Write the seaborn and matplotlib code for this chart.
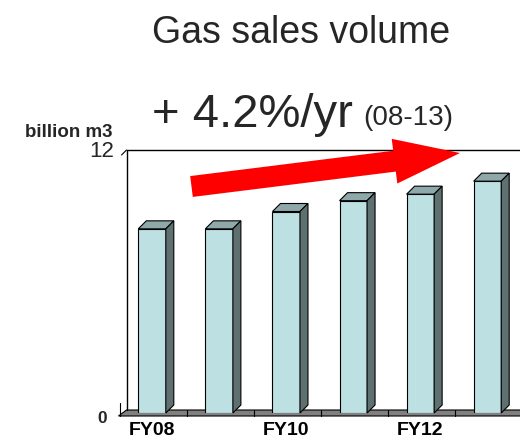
import matplotlib
matplotlib.use("Agg")
import matplotlib.pyplot as plt
from matplotlib.patches import Polygon, FancyArrow
from matplotlib.lines import Line2D
from matplotlib.transforms import IdentityTransform
import seaborn as sns
import pandas as pd

# values (billion m3)
years = ["FY08", "FY09", "FY10", "FY11", "FY12", "FY13"]
volume = [8.5, 8.5, 9.3, 9.8, 10.1, 10.7]
tick_labels = ["FY08", "", "FY10", "", "FY12", ""]

W, H = 520, 442
FRONT = "#bde0e3"
TOP = "#8fa8aa"
SIDE = "#5e7070"
FLOOR = "#808080"


def fxy(x, y):
    # pixel position (from top left) -> figure fraction
    return x / W, 1 - y / H


sns.set_theme(style="white")
plt.rcParams["font.family"] = ["Liberation Sans", "DejaVu Sans"]

fig = plt.figure(figsize=(W / 100, H / 100), dpi=100)
# axes = front plane of the bars
ax_l, ax_r, ax_b, ax_t = 118.5, 521.0, 413.0, 153.0
ax = fig.add_axes([ax_l / W, (H - ax_b) / H, (ax_r - ax_l) / W, (ax_b - ax_t) / H])
ax.patch.set_alpha(0)

df = pd.DataFrame({"year": years, "volume": volume})
sns.barplot(data=df, x="year", y="volume", color=FRONT, saturation=1, width=0.41,
            edgecolor="black", linewidth=0.8, ax=ax, zorder=3)
ax.set_xlim(-0.5, 5.5)
ax.set_ylim(0, 12)

# pixel -> data unit sizes
ux = 6 / (ax_r - ax_l)
uy = 12 / (ax_b - ax_t)
dx, dy = 8 * ux, 8 * uy          # bar depth
wx, f = 8 * ux, 3 * uy           # floor depth / half height

# floor
floor = Polygon([(-0.5, -f), (6.5, -f), (6.5 + wx, f), (-0.5 + wx, f)],
                closed=True, facecolor=FLOOR, edgecolor="black", lw=0.8,
                clip_on=False, zorder=1)
ax.add_patch(floor)
for b in range(5):
    ax.add_line(Line2D([b + 0.5 + ux, b + 0.5 + ux], [-f, f], color="black", lw=0.8,
                       clip_on=False, zorder=1.5))

# back wall lines
bx = -0.5 + wx
ax.add_line(Line2D([bx, bx], [f, 12 + f], color="black", lw=1, clip_on=False, zorder=1))
ax.add_line(Line2D([bx, 7], [12 + f, 12 + f], color="black", lw=1, clip_on=False, zorder=1))
ax.add_line(Line2D([bx, bx - 5 * ux], [12 + f, 12 + f - 5 * uy], color="black", lw=0.8,
                   clip_on=False))
ax.add_line(Line2D([-0.5 + ux, -0.5 + ux], [-f, 10 * uy], color="black", lw=0.8,
                   clip_on=False))

# 3D faces of the bars
for p in ax.patches:
    if not hasattr(p, "get_width") or p is floor:
        continue
    x0, w, h = p.get_x(), p.get_width(), p.get_height()
    top = Polygon([(x0, h), (x0 + w, h), (x0 + w + dx, h + dy), (x0 + dx, h + dy)],
                  closed=True, facecolor=TOP, edgecolor="black", lw=0.8,
                  clip_on=False, zorder=3)
    side = Polygon([(x0 + w, 0), (x0 + w + dx, dy), (x0 + w + dx, h + dy), (x0 + w, h)],
                   closed=True, facecolor=SIDE, edgecolor="black", lw=0.8,
                   clip_on=False, zorder=3)
    ax.add_patch(top)
    ax.add_patch(side)

for s in ax.spines.values():
    s.set_visible(False)
ax.set_yticks([])
ax.set_xticks(range(len(years)))
ax.set_xticklabels(tick_labels, fontsize=14, fontweight="bold", color="black")
ax.tick_params(axis="x", length=0, pad=6.5)
ax.set_xlabel("")
ax.set_ylabel("")

# red growth arrow
arrow = FancyArrow(191.5, H - 186.5, 268.5, 33.5, width=21, head_width=45,
                   head_length=66, length_includes_head=True, color="#ff0000",
                   lw=0, transform=IdentityTransform(), zorder=5)
fig.add_artist(arrow)

# texts
fig.text(*fxy(301, 43), "Gas sales volume", fontsize=27, ha="center", va="baseline")
fig.text(*fxy(252, 127), "+ 4.2%/yr", fontsize=34, ha="center", va="baseline")
fig.text(*fxy(408, 125), "(08-13)", fontsize=20, ha="center", va="baseline")
fig.text(*fxy(69, 137), "billion m3", fontsize=13.5, fontweight="bold", ha="center", va="baseline")
fig.text(*fxy(114, 157), "12", fontsize=16, ha="right", va="baseline")
fig.text(*fxy(102, 423), "0", fontsize=12.5, fontweight="bold", ha="center", va="baseline")

fig.savefig("out.png", dpi=100)
